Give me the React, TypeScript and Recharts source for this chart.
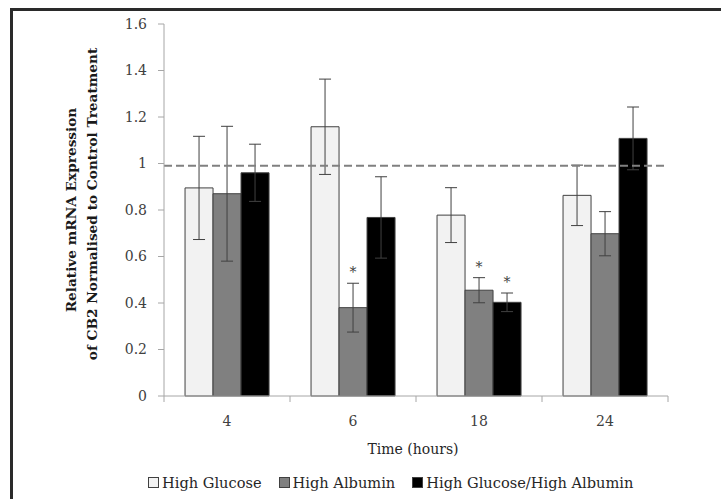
import React from 'react';
import { BarChart, Bar, XAxis, YAxis, ErrorBar, ReferenceLine, Legend, LabelList, Label } from 'recharts';

const categories = ['4', '6', '18', '24'];
const highGlucose = [0.895, 1.158, 0.778, 0.863];
const highGlucoseErr = [0.222, 0.205, 0.118, 0.13];
const highAlbumin = [0.87, 0.38, 0.455, 0.698];
const highAlbuminErr = [0.29, 0.105, 0.054, 0.095];
const combined = [0.96, 0.768, 0.403, 1.108];
const combinedErr = [0.123, 0.175, 0.04, 0.135];
const highAlbuminSig = [false, true, true, false];
const combinedSig = [false, false, true, false];
const yTicks = [0, 0.2, 0.4, 0.6, 0.8, 1, 1.2, 1.4, 1.6];
const controlLevel = 0.99;
const seriesNames = ['High Glucose', 'High Albumin', 'High Glucose/High Albumin'];
const seriesColors = ['#f2f2f2', '#808080', '#000000'];

const data = categories.map((c, i) => ({
  time: c,
  hg: highGlucose[i],
  hgErr: highGlucoseErr[i],
  ha: highAlbumin[i],
  haErr: highAlbuminErr[i],
  hgha: combined[i],
  hghaErr: combinedErr[i],
}));

const FONT = '"DejaVu Serif", serif';
const TEXT = '#404040';
const AXIS = '#a6a6a6';

const XTick = (props: any) => {
  const { x, y, payload, index } = props;
  const off = payload && typeof payload.offset === 'number' && payload.offset > 0 ? payload.offset : 63;
  return (
    <g>
      <line x1={x - off} x2={x - off} y1={y} y2={y + 6} stroke={AXIS} strokeWidth={1} />
      {index === categories.length - 1 && (
        <line x1={x + off} x2={x + off} y1={y} y2={y + 6} stroke={AXIS} strokeWidth={1} />
      )}
      <text x={x} y={y + 20} dy="0.71em" textAnchor="middle" fontFamily={FONT} fontSize={14} fill={TEXT}>
        {payload.value}
      </text>
    </g>
  );
};

const makeStar = (sig: boolean[], errs: number[]) => (props: any) => {
  const vb = props.viewBox || props;
  const { x, y, width, height } = vb;
  const index = props.index;
  const value = Number(props.value);
  if (!sig[index] || !value) return null;
  const pxPerUnit = height / value;
  const top = y - errs[index] * pxPerUnit;
  return (
    <text x={x + width / 2} y={top - 6} textAnchor="middle" fontFamily={FONT} fontSize={14} fill={TEXT}>
      *
    </text>
  );
};

const LegendContent = () => (
  <div style={{ display: 'flex', alignItems: 'center', fontFamily: FONT, fontSize: 14.6, color: '#262626', whiteSpace: 'nowrap' }}>
    {seriesNames.map((n, i) => (
      <div key={n} style={{ display: 'flex', alignItems: 'center', marginRight: i < 2 ? 17 : 0 }}>
        <span style={{ display: 'inline-block', width: 9, height: 9, background: seriesColors[i], border: '1px solid #404040', marginRight: 3 }} />
        <span>{n}</span>
      </div>
    ))}
  </div>
);

const YTitle = () => (
  <g fontFamily={FONT} fontWeight="bold" fontSize={13.7} fill="#1a1a1a">
    <text x={71} y={210} transform="rotate(-90, 71, 210)" textAnchor="middle" dominantBaseline="central">
      Relative mRNA Expression
    </text>
    <text x={92} y={204} transform="rotate(-90, 92, 204)" textAnchor="middle" dominantBaseline="central">
      of CB2 Normalised to Control Treatment
    </text>
  </g>
);

const XTitle = (props: any) => {
  const vb = props.viewBox || { x: 164, y: 396, width: 504 };
  return (
    <text x={vb.x + vb.width / 2 - 3} y={vb.y + 53} textAnchor="middle" dominantBaseline="central" fontFamily={FONT} fontSize={14} fill="#262626">
      Time (hours)
    </text>
  );
};

export default function App() {
  return (
    <div>
      <div style={{ position: 'absolute', left: 10, top: 8, width: 711, height: 491, borderTop: '3px solid #2a2a2a', borderLeft: '3px solid #2a2a2a', boxSizing: 'border-box' }} />
      <div style={{ position: 'absolute', left: 0, top: 0 }}>
        <BarChart
          width={721}
          height={499}
          data={data}
          margin={{ top: 24, right: 53, bottom: 73, left: 104 }}
          barCategoryGap="16.7%"
          barGap={0}
        >
          <XAxis dataKey="time" height={30} axisLine={{ stroke: AXIS }} tickLine={false} tickSize={0} tickMargin={0} tick={<XTick />} interval={0}>
            <Label content={<XTitle />} />
          </XAxis>
          <YAxis
            width={60}
            domain={[0, 1.6]}
            ticks={yTicks}
            interval={0}
            axisLine={{ stroke: AXIS }}
            tickLine={{ stroke: AXIS }}
            tickSize={6}
            tickMargin={11}
            tickFormatter={(v: number) => String(Number(v.toFixed(1)))}
            tick={{ fontFamily: FONT, fontSize: 14, fill: TEXT }}
          >
            <Label content={<YTitle />} />
          </YAxis>
          <Legend layout="horizontal" verticalAlign="middle" align="center" content={<LegendContent />} wrapperStyle={{ left: 148, top: 474, width: 560 }} />
          <Bar dataKey="hg" name={seriesNames[0]} fill={seriesColors[0]} stroke="#404040" strokeWidth={1} isAnimationActive={false}>
            <ErrorBar dataKey="hgErr" width={6} stroke="#404040" strokeWidth={1} direction="y" />
          </Bar>
          <Bar dataKey="ha" name={seriesNames[1]} fill={seriesColors[1]} stroke="#404040" strokeWidth={1} isAnimationActive={false}>
            <ErrorBar dataKey="haErr" width={6} stroke="#404040" strokeWidth={1} direction="y" />
            <LabelList dataKey="ha" content={makeStar(highAlbuminSig, highAlbuminErr)} />
          </Bar>
          <Bar dataKey="hgha" name={seriesNames[2]} fill={seriesColors[2]} stroke="#404040" strokeWidth={1} isAnimationActive={false}>
            <ErrorBar dataKey="hghaErr" width={6} stroke="#404040" strokeWidth={1} direction="y" />
            <LabelList dataKey="hgha" content={makeStar(combinedSig, combinedErr)} />
          </Bar>
          <ReferenceLine y={controlLevel} stroke="#808080" strokeDasharray="8 4" strokeWidth={2} />
        </BarChart>
      </div>
    </div>
  );
}
